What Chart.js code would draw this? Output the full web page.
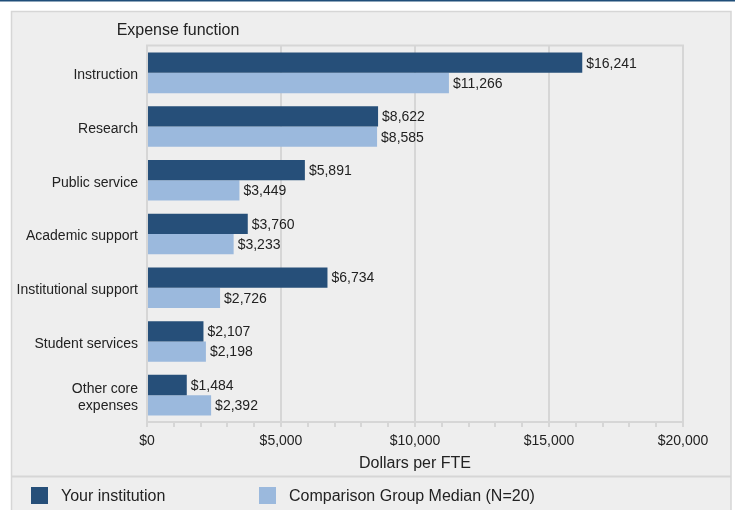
<!DOCTYPE html>
<html>
<head>
<meta charset="utf-8">
<script src="https://cdn.jsdelivr.net/npm/chart.js@4.4.1/dist/chart.umd.min.js"></script>
<style>
  html, body { margin: 0; padding: 0; background: #fff; }
  #wrap { width: 735px; height: 510px; position: relative; }
</style>
</head>
<body>
<div id="wrap"><canvas id="expenseChart"></canvas></div>
<script>
// data
const categories = ['Instruction', 'Research', 'Public service', 'Academic support',
  'Institutional support', 'Student services', ['Other core', 'expenses']];
const yourInstitution = [16241, 8622, 5891, 3760, 6734, 2107, 1484];
const comparisonMedian = [11266, 8585, 3449, 3233, 2726, 2198, 2392];
const seriesLabels = ['Your institution', 'Comparison Group Median (N=20)'];
const xMin = 0;
const xMax = 20000;
const xMajorStep = 5000;
const xMinorStep = 1000;

const FONT = '"Liberation Sans", Arial, sans-serif';
const TEXT = '#222222';
const LINE = '#d6d6d6';
const DARK = '#264f79';
const LIGHT = '#9bb9dd';

const fmt = v => '$' + v.toLocaleString('en-US');

// panel, borders, title, value labels, legend
const framePlugin = {
  id: 'frame',
  beforeDraw(chart) {
    const { ctx, width, height } = chart;
    ctx.save();
    ctx.fillStyle = '#ffffff';
    ctx.fillRect(0, 0, width, height);
    ctx.fillStyle = '#1f4e79';
    ctx.fillRect(0, 0, width, 1.5);
    ctx.fillStyle = '#eeeeee';
    ctx.fillRect(11, 11, 720, height - 11);
    ctx.strokeStyle = LINE;
    ctx.lineWidth = 1.5;
    ctx.strokeRect(11.5, 11.5, 719.5, height);
    ctx.restore();
  },
  afterDraw(chart) {
    const { ctx, chartArea } = chart;
    ctx.save();
    // top edge of plot
    ctx.strokeStyle = LINE;
    ctx.lineWidth = 2;
    ctx.beginPath();
    ctx.moveTo(chartArea.left - 1, chartArea.top - 0.5);
    ctx.lineTo(chartArea.right + 1, chartArea.top - 0.5);
    ctx.stroke();
    // legend separator
    ctx.beginPath();
    ctx.moveTo(11, 476.5);
    ctx.lineTo(731, 476.5);
    ctx.stroke();

    // axis heading
    ctx.fillStyle = TEXT;
    ctx.font = '16px ' + FONT;
    ctx.textAlign = 'center';
    ctx.textBaseline = 'middle';
    ctx.fillText('Expense function', 178, 31);

    // value labels
    ctx.font = '14px ' + FONT;
    ctx.textAlign = 'left';
    chart.data.datasets.forEach((ds, di) => {
      chart.getDatasetMeta(di).data.forEach((bar, i) => {
        ctx.fillText(fmt(ds.data[i]), bar.x + 4, bar.y + 1);
      });
    });

    // legend
    const legendX = [31, 259];
    ctx.font = '16px ' + FONT;
    chart.data.datasets.forEach((ds, di) => {
      ctx.fillStyle = ds.backgroundColor;
      ctx.fillRect(legendX[di], 487, 17, 17);
      ctx.fillStyle = TEXT;
      ctx.fillText(ds.label, legendX[di] + 30, 496.5);
    });
    ctx.restore();
  }
};

new Chart(document.getElementById('expenseChart'), {
  type: 'bar',
  data: {
    labels: categories,
    datasets: [
      {
        label: seriesLabels[0],
        data: yourInstitution,
        backgroundColor: DARK,
        borderWidth: 0,
        categoryPercentage: 0.755,
        barPercentage: 1.0
      },
      {
        label: seriesLabels[1],
        data: comparisonMedian,
        backgroundColor: LIGHT,
        borderWidth: 0,
        categoryPercentage: 0.755,
        barPercentage: 1.0
      }
    ]
  },
  options: {
    indexAxis: 'y',
    responsive: true,
    maintainAspectRatio: false,
    animation: false,
    layout: { padding: { top: 46, right: 52, bottom: 34, left: 0 } },
    plugins: {
      legend: { display: false },
      tooltip: { enabled: false }
    },
    scales: {
      x: {
        min: xMin,
        max: xMax,
        afterFit: s => { s.height = 54; },
        ticks: {
          stepSize: xMinorStep,
          autoSkip: false,
          maxRotation: 0,
          padding: 6,
          color: TEXT,
          font: { family: FONT, size: 14 },
          callback: v => (v % xMajorStep === 0 ? fmt(v) : '')
        },
        grid: {
          color: c => (c.tick && c.tick.value % xMajorStep === 0 ? LINE : 'rgba(0,0,0,0)'),
          tickColor: LINE,
          lineWidth: 2,
          tickLength: 5
        },
        border: { display: true, color: LINE, width: 2 },
        title: {
          display: true,
          text: 'Dollars per FTE',
          color: TEXT,
          font: { family: FONT, size: 16 },
          padding: { top: 0, bottom: 3 }
        }
      },
      y: {
        afterFit: s => { s.width = 147; },
        ticks: {
          padding: 9,
          labelOffset: 2.5,
          color: TEXT,
          font: { family: FONT, size: 14, lineHeight: 1.2 }
        },
        grid: { display: false, drawTicks: false },
        border: { display: true, color: LINE, width: 2 }
      }
    }
  },
  plugins: [framePlugin]
});
</script>
</body>
</html>
